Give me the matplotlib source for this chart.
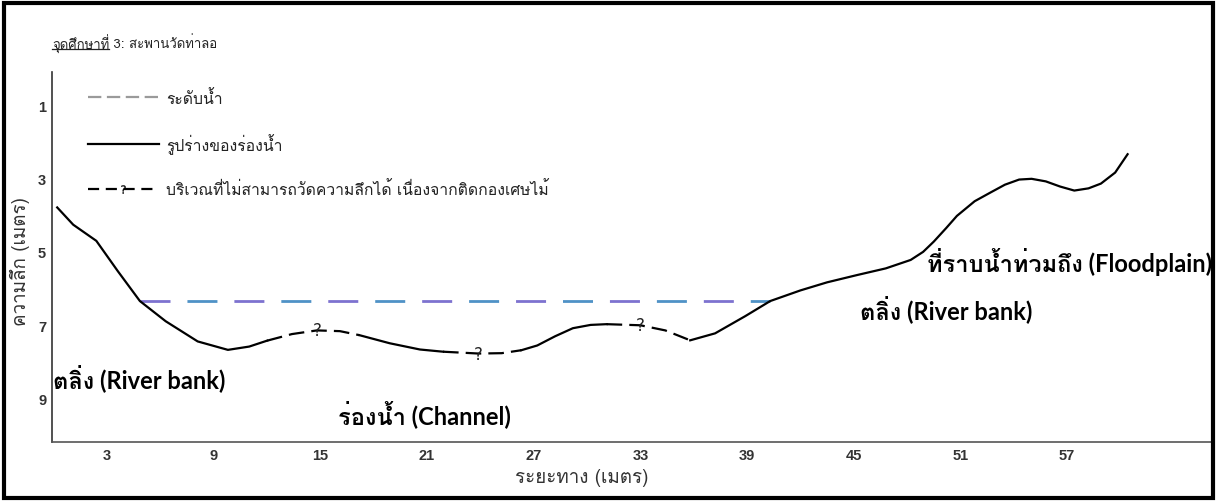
import matplotlib
matplotlib.use('Agg')
import matplotlib.pyplot as plt
from matplotlib import font_manager
from matplotlib.lines import Line2D
from matplotlib.patches import Rectangle
import numpy as np

# ---------------- data ----------------
distance_ticks = [3, 9, 15, 21, 27, 33, 39, 45, 51, 57]
depth_ticks = [1, 3, 5, 7, 9]

profile_x = [0.2, 1.1, 2.4, 3.6, 4.85, 6.3, 8.1, 9.8, 11.0, 12.0,
             13.4, 14.8, 16.1, 17.2, 18.9, 20.6, 21.9, 23.9, 25.2, 26.3,
             27.2, 28.2, 29.2, 30.2, 31.1, 33.0, 34.4, 35.8, 37.2, 38.9,
             40.3, 42.0, 43.5, 45.2, 46.8, 48.2, 48.9, 49.5, 50.2, 50.8,
             51.8, 52.7, 53.5, 54.3, 55.0, 55.8, 56.6, 57.4, 58.2, 58.9,
             59.7, 60.4]
profile_depth = [3.79, 4.26, 4.70, 5.52, 6.34, 6.89, 7.44, 7.67, 7.58, 7.42,
                 7.24, 7.14, 7.16, 7.27, 7.49, 7.66, 7.72, 7.77, 7.76, 7.68,
                 7.55, 7.30, 7.08, 6.99, 6.97, 7.00, 7.14, 7.41, 7.22, 6.75,
                 6.34, 6.05, 5.83, 5.63, 5.45, 5.22, 5.00, 4.72, 4.35, 4.02,
                 3.62, 3.38, 3.17, 3.03, 3.01, 3.08, 3.22, 3.33, 3.27, 3.14,
                 2.84, 2.34]

unmeasured_ranges = [(12.0, 17.2), (21.9, 26.3), (31.1, 35.8)]
question_x = [14.8, 23.9, 33.0]

water_level = 6.33
water_x = [4.85, 40.3]

title_underlined = "จุดศึกษาที่"
title_rest = " 3: สะพานวัดท่าลอ"
legend_labels = ["ระดับน้ำ", "รูปร่างของร่องน้ำ",
                 "บริเวณที่ไม่สามารถวัดความลึกได้ เนื่องจากติดกองเศษไม้"]
xlabel = "ระยะทาง (เมตร)"
ylabel = "ความลึก (เมตร)"
annotations = [
    ("ตลิ่ง (River bank)", -0.04, 8.40),
    ("ร่องน้ำ (Channel)", 16.0, 9.38),
    ("ที่ราบน้ำท่วมถึง (Floodplain)", 49.1, 5.25),
    ("ตลิ่ง (River bank)", 45.35, 6.53),
]

# ---------------- fonts ----------------
def find_thai_fonts():
    names = []
    try:
        from fontTools.ttLib import TTFont
    except Exception:
        return names
    for f in font_manager.fontManager.ttflist:
        try:
            tt = TTFont(f.fname, fontNumber=0, lazy=True)
            cmap = tt.getBestCmap()
            if cmap and 0x0E01 in cmap and 0x0E49 in cmap:
                if f.name not in names:
                    names.append(f.name)
        except Exception:
            pass
    return names

thai = find_thai_fonts()
thai_family = thai[:1] + ['DejaVu Sans']
latin_bold_family = ['Lato'] + thai[:1] + ['DejaVu Sans']
plt.rcParams['font.family'] = thai_family

# ---------------- figure ----------------
W, H = 1222, 502
fig = plt.figure(figsize=(W / 100, H / 100), dpi=100)
fig.patch.set_facecolor('white')
ax = fig.add_axes([51.7 / W, (H - 443) / H, (1211 - 51.7) / W, (443 - 73) / H])

ax.set_xlim(-0.11, 65.09)
ax.set_ylim(10.18, 0.10)

for s in ['top', 'right']:
    ax.spines[s].set_visible(False)
ax.spines['left'].set_color('#333333')
ax.spines['bottom'].set_color('#555555')
ax.spines['left'].set_linewidth(1.2)
ax.spines['bottom'].set_linewidth(1.2)

ax.set_xticks(distance_ticks)
ax.set_yticks(depth_ticks)
ax.tick_params(length=0, labelsize=10.5, labelcolor='#333333')
ax.tick_params(axis='x', pad=4)
ax.tick_params(axis='y', pad=4)
for lab in ax.get_xticklabels() + ax.get_yticklabels():
    lab.set_fontweight('bold')
    lab.set_family(['Liberation Sans Narrow', 'Liberation Sans', 'DejaVu Sans'])

# water level (alternating purple / blue dashes)
ax.plot(water_x, [water_level, water_level], color='#7d72cf', lw=2,
        ls=(0, (10.8, 23.0)), solid_capstyle='butt')
ax.plot(water_x, [water_level, water_level], color='#4f92c6', lw=2,
        ls=(16.9, (10.8, 23.0)), solid_capstyle='butt')

# channel profile
px = np.array(profile_x)
pd_ = np.array(profile_depth)
def is_unmeasured(xm):
    return any(a <= xm <= b for a, b in unmeasured_ranges)

seg_x, seg_y = [px[0]], [pd_[0]]
cur = is_unmeasured((px[0] + px[1]) / 2)
for i in range(1, len(px)):
    st = is_unmeasured((px[i - 1] + px[i]) / 2)
    if st != cur:
        ax.plot(seg_x, seg_y, color='black', lw=1.6,
                ls=(0, (7, 3.2)) if cur else '-', solid_joinstyle='round')
        seg_x, seg_y = [px[i - 1]], [pd_[i - 1]]
        cur = st
    seg_x.append(px[i]); seg_y.append(pd_[i])
ax.plot(seg_x, seg_y, color='black', lw=1.6,
        ls=(0, (7, 3.2)) if cur else '-', solid_joinstyle='round')

for qx in question_x:
    qy = np.interp(qx, px, pd_)
    ax.text(qx, qy, "?", ha='center', va='center', fontsize=12,
            color='#222222', family=['DejaVu Sans'])

# legend
handles = [
    Line2D([], [], color='#9a9a9a', lw=1.6, ls=(0, (6, 2.5))),
    Line2D([], [], color='black', lw=1.6),
    Line2D([], [], color='black', lw=1.6, ls=(0, (5, 3)), marker='$?$',
           markersize=6, markeredgewidth=0.2),
]
leg = ax.legend(handles, legend_labels, loc='upper left',
                bbox_to_anchor=((88 - 51.7) / (1211 - 51.7), (443 - 90) / (443 - 73)),
                frameon=False, fontsize=11.3, handlelength=4.5, handletextpad=0.5,
                labelspacing=1.7, borderaxespad=0, borderpad=0)
for t in leg.get_texts():
    t.set_color('#222222')

# annotations
for txt, x, y in annotations:
    ax.text(x, y, txt, ha='left', va='center', fontsize=17, fontweight='bold',
            color='black', family=latin_bold_family, clip_on=False)

# axis labels
fig.text(582 / W, 1 - 478 / H, xlabel, ha='center', va='center',
         fontsize=13.5, color='#333333')
fig.text(20 / W, 1 - 262 / H, ylabel, ha='center', va='center',
         rotation=90, fontsize=13.5, color='#333333')

# title with underlined first part
t1 = fig.text(52 / W, 1 - 44 / H, title_underlined, ha='left', va='center',
              fontsize=9.5, color='#222222')
t2 = fig.text(0, 0, title_rest, fontsize=9.5, color='#222222', va='center')
fig.canvas.draw()
r = fig.canvas.get_renderer()
bb = t1.get_window_extent(r)
t2.set_position((bb.x1 / W, 1 - 44 / H))
uy = (H - 50) / H
fig.add_artist(Line2D([bb.x0 / W, bb.x1 / W], [uy, uy], color='#222222', lw=0.9))

# outer frame
fig.add_artist(Rectangle((4 / W, 3 / H), (1213 - 4) / W, (499 - 4) / H,
                         transform=fig.transFigure, fill=False,
                         edgecolor='black', lw=3))

fig.savefig('out.png', dpi=100)
